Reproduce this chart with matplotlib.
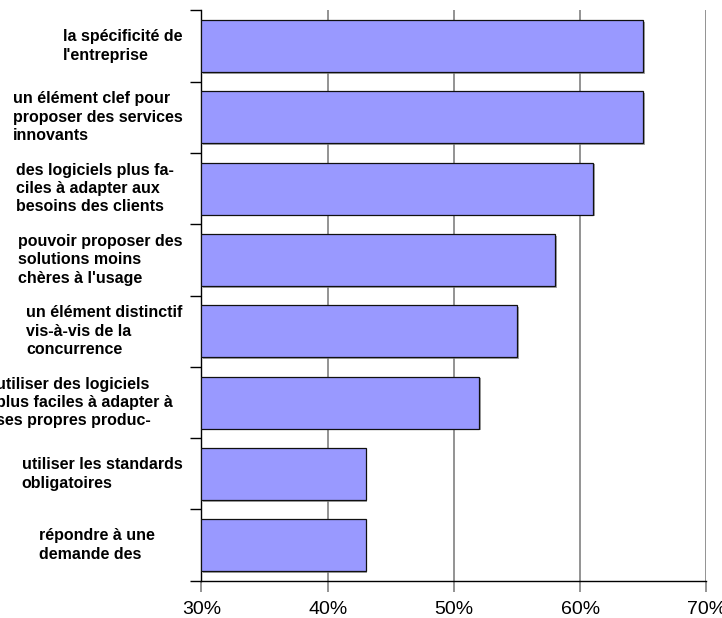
import matplotlib
matplotlib.use("Agg")
import matplotlib.pyplot as plt
import matplotlib.transforms as mtransforms
import matplotlib.patheffects as pe
import numpy as np

categories = [
    "la spécificité de\nl'entreprise",
    "un élément clef pour\nproposer des services\ninnovants",
    "des logiciels plus fa-\nciles à adapter aux\nbesoins des clients",
    "pouvoir proposer des\nsolutions moins\nchères à l'usage",
    "un élément distinctif\nvis-à-vis de la\nconcurrence",
    "utiliser des logiciels\nplus faciles à adapter à\nses propres produc-",
    "utiliser les standards\nobligatoires",
    "répondre à une\ndemande des",
]
values = [65, 65, 61, 58, 55, 52, 43, 43]
xticks = [30, 40, 50, 60, 70]
xticklabels = ["30%", "40%", "50%", "60%", "70%"]

# right edge of each label block, in pixels left of the y axis (layout only)
label_gap_px = [19, 19, 28, 19, 19, 29, 19, 47]

plt.rcParams['font.family'] = ['Liberation Sans', 'DejaVu Sans']

DPI = 100
fig = plt.figure(figsize=(7.22, 6.18), dpi=DPI)
ax = fig.add_axes([0.279, 0.0602, 0.6995, 0.923])

n = len(categories)
pos = np.arange(n)
bars = ax.barh(pos, np.array(values) - 30, left=30, height=0.73, color="#9999FF",
               edgecolor="#101010", linewidth=0.9, zorder=3)
for b in bars:
    b.set_path_effects([pe.SimplePatchShadow(offset=(1.2, -1.2), shadow_rgbFace='#808080', alpha=0.7),
                        pe.Normal()])

ax.set_xlim(30, 70)
ax.set_ylim(n - 0.5, -0.5)

ax.set_xticks(xticks)
ax.set_xticklabels(xticklabels, fontsize=14)
ax.xaxis.grid(True, color="#808080", linewidth=1.2, zorder=0)
ax.set_axisbelow(True)
ax.tick_params(axis='x', direction='out', length=8, width=1.2, color="#808080", pad=6.5)

ax.set_yticks(np.arange(n + 1) - 0.5)
ax.set_yticklabels([])
ax.tick_params(axis='y', which='major', direction='out', length=8, width=1, color="black")

ytrans = ax.get_yaxis_transform()
for i, (lab, gap) in enumerate(zip(categories, label_gap_px)):
    tr = ytrans + mtransforms.ScaledTranslation(-gap / DPI, 0, fig.dpi_scale_trans)
    ax.text(0, pos[i], lab, transform=tr, ha='right', va='center', multialignment='left',
            fontsize=11.5, fontweight='bold', linespacing=1.28, clip_on=False)

for s in ['top', 'right']:
    ax.spines[s].set_visible(False)
ax.spines['left'].set_color('black')
ax.spines['bottom'].set_color('black')
ax.spines['left'].set_linewidth(1)
ax.spines['bottom'].set_linewidth(1)

fig.savefig("out.png", dpi=DPI)
